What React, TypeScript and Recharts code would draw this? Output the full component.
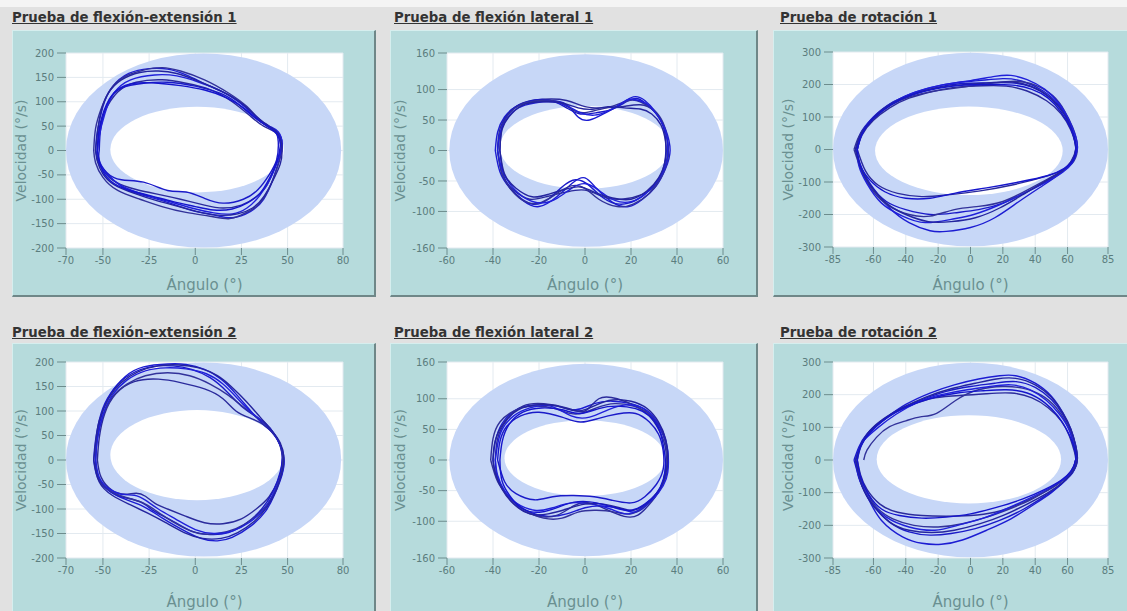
import {
  ComposedChart,
  Scatter,
  XAxis,
  YAxis,
  CartesianGrid,
  ReferenceArea,
  Label,
} from "recharts";

type Pt = [number, number];

// axis ticks
const feXTicks = [-70, -50, -25, 0, 25, 50, 80];
const feYTicks = [-200, -150, -100, -50, 0, 50, 100, 150, 200];
const latXTicks = [-60, -40, -20, 0, 20, 40, 60];
const latYTicks = [-160, -100, -50, 0, 50, 100, 160];
const rotXTicks = [-85, -60, -40, -20, 0, 20, 40, 60, 85];
const rotYTicks = [-300, -200, -100, 0, 100, 200, 300];

// normal-range band: outer / inner ellipse bounds [x1, x2, y1, y2]
const fe1Outer = [-70, 79, -199, 199];
const fe1Inner = [-46, 48, -86, 90];
const lat1Outer = [-59, 60, -158, 158];
const lat1Inner = [-37, 37, -63, 73];
const rot1Outer = [-85, 85, -298, 298];
const rot1Inner = [-59, 57, -140, 132];
const fe2Outer = [-70, 79, -197, 199];
const fe2Inner = [-46, 48, -82, 102];
const lat2Outer = [-59, 60, -157, 157];
const lat2Inner = [-35, 35, -59, 65];
const rot2Outer = [-85, 85, -298, 298];
const rot2Inner = [-58, 56, -133, 137];

// Prueba de flexión-extensión 1
const fe1A: Pt[] = [[-54, 0], [-53, 40], [-50, 90], [-45, 130], [-36, 158], [-25, 168], [-15, 167], [-5, 155], [8, 132], [20, 110], [30, 80], [36, 58], [42, 45], [46, 30], [47, 5], [45, -25], [42, -60], [37, -100], [30, -125], [20, -138], [10, -132], [0, -125], [-12, -110], [-25, -95], [-38, -78], [-47, -50], [-52, -25], [-54, 0]];
const fe1B: Pt[] = [[-53, 0], [-52, 40], [-49, 80], [-42, 120], [-32, 140], [-18, 145], [-5, 138], [8, 125], [20, 100], [30, 70], [37, 50], [43, 38], [46, 18], [46, -5], [43, -35], [39, -70], [33, -95], [25, -112], [15, -118], [5, -112], [-8, -100], [-20, -90], [-32, -80], [-43, -65], [-50, -40], [-53, -15], [-53, 0]];
const fe1C: Pt[] = [[-52, 0], [-51, 50], [-47, 100], [-40, 128], [-28, 138], [-15, 140], [0, 132], [15, 115], [25, 90], [34, 62], [40, 48], [44, 35], [45, 10], [44, -20], [40, -50], [34, -80], [26, -100], [15, -108], [5, -98], [-5, -85], [-15, -82], [-28, -65], [-40, -60], [-48, -45], [-52, -20], [-52, 0]];
const fe1D: Pt[] = [[-55, 0], [-54, 45], [-51, 85], [-46, 125], [-38, 152], [-28, 165], [-18, 170], [-8, 163], [5, 145], [18, 118], [28, 90], [35, 62], [41, 46], [45, 35], [47, 15], [46, -15], [43, -50], [39, -85], [33, -115], [25, -132], [18, -140], [8, -135], [-5, -127], [-18, -115], [-30, -100], [-42, -82], [-50, -55], [-54, -25], [-55, 0]];
const fe1E: Pt[] = [[-53, 0], [-52, 30], [-49, 75], [-44, 118], [-35, 145], [-22, 155], [-10, 153], [2, 140], [15, 120], [26, 92], [34, 66], [40, 50], [45, 38], [47, 12], [45, -18], [41, -55], [35, -92], [28, -118], [20, -130], [10, -128], [-2, -118], [-15, -104], [-28, -90], [-40, -72], [-48, -48], [-53, -20], [-53, 0]];
const fe1F: Pt[] = [[-54, 0], [-53, 35], [-51, 80], [-47, 118], [-40, 145], [-30, 160], [-20, 163], [-10, 158], [2, 142], [14, 122], [24, 100], [32, 74], [38, 55], [43, 42], [46, 25], [47, 0], [46, -28], [42, -62], [37, -95], [31, -118], [23, -130], [14, -133], [4, -128], [-8, -116], [-20, -104], [-33, -88], [-44, -70], [-50, -48], [-53, -22], [-54, 0]];
const fe1G: Pt[] = [[-53, 0], [-52, 45], [-48, 95], [-42, 125], [-33, 138], [-20, 138], [-8, 133], [5, 124], [17, 108], [27, 85], [35, 60], [41, 45], [45, 30], [46, 8], [44, -25], [40, -58], [35, -88], [28, -108], [20, -120], [10, -122], [0, -115], [-12, -105], [-25, -92], [-37, -80], [-46, -62], [-51, -35], [-53, 0]];

// Prueba de flexión lateral 1
const lat1A: Pt[] = [[-39, 0], [-38, 30], [-35, 55], [-30, 72], [-23, 80], [-15, 82], [-8, 75], [-3, 55], [2, 50], [8, 60], [15, 75], [21, 88], [26, 82], [31, 62], [35, 35], [37, 0], [35, -30], [31, -58], [25, -80], [19, -92], [12, -85], [5, -62], [0, -45], [-5, -52], [-12, -75], [-20, -92], [-27, -82], [-33, -60], [-37, -35], [-39, 0]];
const lat1B: Pt[] = [[-38, 0], [-37, 35], [-33, 62], [-27, 78], [-18, 84], [-8, 82], [0, 72], [8, 70], [16, 72], [24, 75], [30, 65], [34, 40], [36, 10], [35, -25], [31, -55], [25, -72], [16, -80], [8, -76], [0, -65], [-8, -68], [-16, -75], [-24, -80], [-31, -65], [-36, -40], [-38, 0]];
const lat1C: Pt[] = [[-37, 0], [-36, 40], [-32, 66], [-25, 80], [-16, 83], [-8, 70], [-2, 60], [5, 62], [12, 68], [18, 80], [23, 85], [28, 72], [33, 50], [35, 20], [35, -10], [33, -40], [28, -65], [22, -82], [15, -88], [8, -78], [2, -58], [-4, -48], [-10, -60], [-16, -80], [-23, -88], [-30, -72], [-35, -45], [-37, 0]];
const lat1D: Pt[] = [[-38, 0], [-37, 25], [-34, 55], [-28, 75], [-20, 82], [-12, 80], [-5, 66], [0, 62], [6, 67], [13, 74], [19, 82], [24, 80], [30, 66], [34, 45], [36, 15], [36, -15], [33, -45], [28, -70], [21, -88], [14, -92], [6, -80], [0, -62], [-6, -58], [-12, -70], [-19, -85], [-26, -84], [-32, -65], [-36, -38], [-38, 0]];
const lat1E: Pt[] = [[-38, 0], [-37, 28], [-34, 52], [-29, 70], [-22, 78], [-14, 80], [-7, 72], [-2, 62], [4, 58], [10, 65], [16, 78], [20, 84], [26, 78], [31, 60], [35, 32], [36, 5], [35, -25], [31, -52], [26, -72], [20, -84], [13, -82], [7, -68], [1, -55], [-5, -60], [-12, -78], [-19, -86], [-26, -78], [-32, -58], [-36, -32], [-38, 0]];
const lat1F: Pt[] = [[-37, 0], [-36, 35], [-32, 60], [-26, 76], [-18, 80], [-10, 78], [-3, 70], [4, 68], [10, 72], [17, 70], [24, 68], [29, 60], [33, 42], [35, 15], [35, -15], [32, -45], [27, -66], [20, -80], [12, -78], [5, -70], [-2, -60], [-9, -64], [-16, -72], [-23, -76], [-30, -62], [-35, -38], [-37, 0]];

// Prueba de rotación 1
const rot1A: Pt[] = [[-71, 0], [-68, 40], [-62, 85], [-52, 130], [-40, 165], [-25, 190], [-10, 205], [5, 212], [20, 218], [32, 210], [45, 180], [55, 135], [61, 85], [64, 40], [65, 0], [62, -40], [55, -75], [45, -110], [30, -160], [15, -210], [0, -240], [-15, -252], [-25, -250], [-38, -225], [-50, -180], [-60, -120], [-67, -60], [-71, 0]];
const rot1B: Pt[] = [[-70, 0], [-67, 45], [-60, 90], [-50, 128], [-38, 158], [-22, 180], [-8, 192], [8, 196], [22, 195], [35, 180], [47, 150], [56, 110], [62, 60], [65, 10], [64, -30], [58, -60], [45, -85], [25, -110], [5, -128], [-15, -140], [-30, -145], [-45, -135], [-57, -110], [-65, -65], [-70, 0]];
const rot1C: Pt[] = [[-71, 0], [-68, 50], [-61, 95], [-50, 140], [-36, 170], [-20, 192], [-5, 203], [10, 205], [25, 205], [38, 192], [49, 160], [57, 118], [62, 70], [65, 20], [64, -25], [58, -60], [48, -95], [35, -130], [20, -165], [5, -185], [-10, -195], [-25, -200], [-40, -185], [-52, -160], [-62, -110], [-68, -55], [-71, 0]];
const rot1D: Pt[] = [[-72, 0], [-69, 40], [-63, 80], [-54, 120], [-44, 150], [-30, 172], [-15, 185], [0, 195], [15, 205], [28, 210], [40, 198], [51, 165], [58, 120], [63, 70], [66, 15], [64, -35], [57, -65], [48, -90], [35, -125], [20, -160], [5, -175], [-10, -185], [-25, -205], [-38, -200], [-50, -175], [-60, -130], [-67, -70], [-72, 0]];
const rot1E: Pt[] = [[-70, 0], [-67, 50], [-60, 100], [-48, 145], [-35, 175], [-18, 198], [0, 212], [15, 225], [25, 228], [35, 215], [46, 185], [55, 140], [61, 90], [65, 40], [66, 0], [63, -40], [57, -70], [47, -100], [33, -135], [18, -170], [2, -200], [-12, -215], [-28, -225], [-42, -205], [-55, -165], [-64, -105], [-69, -50], [-70, 0]];
const rot1F: Pt[] = [[-71, 0], [-68, 45], [-61, 92], [-51, 135], [-38, 165], [-24, 186], [-8, 198], [8, 204], [22, 208], [34, 200], [46, 172], [55, 128], [61, 80], [64, 35], [65, 0], [62, -38], [56, -68], [46, -98], [32, -140], [18, -180], [3, -210], [-12, -222], [-26, -222], [-40, -200], [-52, -165], [-62, -110], [-68, -55], [-71, 0]];
const rot1G: Pt[] = [[-70, 0], [-67, 48], [-60, 95], [-49, 138], [-36, 168], [-20, 188], [-4, 198], [12, 200], [26, 198], [38, 185], [48, 158], [56, 115], [62, 65], [65, 15], [64, -28], [58, -58], [48, -80], [30, -100], [10, -118], [-10, -135], [-25, -150], [-40, -150], [-53, -130], [-62, -95], [-68, -50], [-70, 0]];

// Prueba de flexión-extensión 2
const fe2A: Pt[] = [[-55, 0], [-54, 40], [-51, 95], [-46, 135], [-38, 170], [-28, 190], [-15, 196], [-5, 195], [5, 185], [14, 165], [22, 135], [30, 100], [37, 72], [42, 55], [46, 30], [48, 0], [47, -30], [43, -70], [38, -105], [30, -135], [20, -158], [12, -165], [3, -160], [-8, -140], [-18, -118], [-28, -95], [-38, -80], [-47, -62], [-53, -35], [-55, 0]];
const fe2B: Pt[] = [[-53, 0], [-52, 45], [-49, 95], [-43, 135], [-33, 160], [-20, 165], [-8, 158], [5, 145], [15, 125], [22, 100], [30, 85], [37, 72], [43, 50], [47, 20], [47, -10], [45, -40], [40, -75], [33, -100], [25, -120], [15, -130], [5, -128], [-5, -115], [-15, -100], [-22, -88], [-27, -74], [-32, -68], [-38, -70], [-45, -62], [-51, -35], [-53, 0]];
const fe2C: Pt[] = [[-54, 0], [-53, 50], [-50, 100], [-44, 145], [-35, 175], [-24, 190], [-12, 192], [-2, 185], [8, 168], [17, 140], [25, 110], [33, 88], [40, 65], [45, 40], [47, 10], [46, -25], [42, -65], [36, -100], [28, -128], [18, -148], [8, -152], [-2, -145], [-12, -125], [-22, -105], [-30, -85], [-40, -75], [-48, -58], [-53, -30], [-54, 0]];
const fe2D: Pt[] = [[-54, 0], [-53, 45], [-50, 90], [-45, 128], [-37, 155], [-27, 172], [-15, 178], [-3, 172], [8, 155], [18, 132], [26, 108], [33, 88], [39, 70], [44, 45], [47, 15], [47, -20], [44, -55], [39, -90], [31, -120], [22, -140], [12, -150], [2, -150], [-8, -135], [-18, -112], [-27, -90], [-36, -78], [-45, -65], [-52, -40], [-54, 0]];
const fe2E: Pt[] = [[-54, 0], [-53, 42], [-50, 92], [-45, 132], [-37, 163], [-27, 182], [-16, 188], [-5, 186], [6, 176], [15, 155], [23, 125], [31, 95], [38, 75], [43, 52], [47, 22], [48, -8], [46, -38], [42, -72], [37, -102], [29, -128], [20, -145], [10, -150], [0, -142], [-10, -122], [-20, -100], [-27, -82], [-33, -72], [-40, -70], [-47, -58], [-52, -35], [-54, 0]];
const fe2F: Pt[] = [[-55, 0], [-54, 35], [-52, 80], [-47, 125], [-40, 158], [-31, 180], [-20, 192], [-9, 194], [2, 188], [12, 172], [20, 148], [28, 118], [35, 88], [41, 62], [46, 35], [48, 5], [47, -25], [44, -60], [39, -95], [32, -125], [23, -148], [14, -160], [4, -160], [-6, -148], [-16, -128], [-26, -108], [-36, -90], [-45, -72], [-52, -45], [-55, 0]];

// Prueba de flexión lateral 2
const lat2A: Pt[] = [[-40, 0], [-39, 30], [-36, 60], [-30, 82], [-22, 90], [-12, 88], [-4, 82], [4, 92], [12, 96], [20, 92], [26, 82], [31, 62], [34, 40], [36, 10], [35, -20], [33, -45], [28, -70], [22, -85], [16, -80], [8, -75], [0, -78], [-8, -88], [-16, -92], [-24, -85], [-31, -68], [-36, -45], [-39, -20], [-40, 0]];
const lat2B: Pt[] = [[-39, 0], [-38, 35], [-34, 65], [-27, 88], [-18, 92], [-8, 85], [0, 80], [6, 100], [14, 100], [22, 88], [28, 72], [32, 50], [35, 20], [35, -15], [33, -45], [29, -68], [23, -90], [17, -92], [10, -82], [2, -70], [-5, -75], [-12, -90], [-20, -92], [-28, -80], [-34, -58], [-38, -30], [-39, 0]];
const lat2C: Pt[] = [[-38, 0], [-37, 30], [-34, 55], [-28, 72], [-20, 78], [-10, 70], [-2, 62], [6, 68], [14, 75], [22, 76], [28, 62], [32, 42], [34, 15], [34, -15], [31, -40], [26, -60], [20, -70], [12, -66], [4, -60], [-5, -58], [-14, -60], [-22, -65], [-30, -55], [-35, -35], [-38, 0]];
const lat2D: Pt[] = [[-41, 0], [-40, 35], [-37, 62], [-31, 80], [-23, 88], [-13, 84], [-4, 75], [5, 85], [13, 92], [21, 88], [27, 78], [32, 58], [35, 30], [36, 0], [35, -30], [31, -55], [26, -75], [20, -88], [13, -85], [5, -82], [-3, -85], [-10, -95], [-18, -95], [-26, -82], [-33, -60], [-38, -35], [-41, 0]];
const lat2E: Pt[] = [[-39, 0], [-38, 25], [-36, 50], [-31, 72], [-24, 85], [-15, 88], [-6, 72], [2, 70], [10, 82], [18, 90], [25, 85], [30, 70], [34, 45], [36, 15], [36, -20], [34, -42], [30, -62], [24, -80], [18, -88], [11, -80], [3, -72], [-6, -70], [-14, -78], [-22, -82], [-30, -70], [-35, -50], [-38, -25], [-39, 0]];
const lat2F: Pt[] = [[-40, 0], [-39, 32], [-35, 62], [-29, 82], [-21, 90], [-12, 88], [-3, 80], [5, 90], [12, 98], [20, 96], [27, 84], [32, 62], [35, 35], [36, 5], [35, -25], [32, -50], [27, -70], [21, -82], [15, -78], [8, -72], [0, -72], [-8, -80], [-16, -88], [-24, -88], [-31, -72], [-36, -48], [-39, -22], [-40, 0]];
const lat2G: Pt[] = [[-37, 0], [-36, 30], [-33, 58], [-27, 78], [-19, 85], [-10, 82], [-2, 76], [6, 84], [14, 88], [22, 84], [28, 72], [32, 52], [34, 25], [35, -5], [34, -32], [31, -55], [26, -72], [20, -82], [13, -78], [5, -70], [-3, -68], [-11, -76], [-19, -85], [-27, -80], [-32, -62], [-36, -35], [-37, 0]];

// Prueba de rotación 2
const rot2A: Pt[] = [[-71, 0], [-68, 45], [-62, 90], [-52, 130], [-40, 170], [-25, 205], [-10, 230], [5, 248], [18, 258], [28, 258], [40, 235], [50, 195], [57, 145], [62, 95], [65, 45], [66, 0], [63, -40], [58, -65], [50, -100], [38, -140], [25, -180], [10, -215], [-5, -245], [-18, -258], [-30, -255], [-42, -235], [-55, -185], [-63, -120], [-69, -55], [-71, 0]];
const rot2B: Pt[] = [[-70, 0], [-67, 50], [-60, 95], [-50, 135], [-38, 165], [-22, 190], [-5, 198], [10, 203], [25, 205], [38, 190], [48, 160], [56, 120], [61, 75], [64, 30], [65, 0], [62, -35], [55, -70], [45, -100], [30, -135], [15, -160], [0, -170], [-15, -172], [-30, -170], [-45, -160], [-56, -135], [-64, -90], [-68, -45], [-70, 0]];
const rot2C: Pt[] = [[-72, 0], [-69, 40], [-64, 80], [-55, 120], [-44, 155], [-30, 185], [-15, 210], [0, 225], [15, 235], [28, 240], [40, 222], [50, 185], [57, 140], [62, 90], [65, 40], [65, 0], [62, -40], [56, -75], [46, -110], [33, -150], [18, -185], [3, -210], [-12, -225], [-25, -230], [-38, -220], [-50, -190], [-60, -140], [-67, -80], [-72, 0]];
const rot2D: Pt[] = [[-66, 0], [-64, 30], [-58, 70], [-50, 102], [-40, 120], [-31, 132], [-21, 143], [-9, 183], [5, 215], [20, 225], [32, 220], [44, 198], [53, 160], [59, 115], [63, 65], [65, 15], [64, -25], [59, -55], [50, -85], [38, -120], [24, -150], [10, -175], [-5, -195], [-20, -205], [-35, -200], [-48, -180], [-58, -145], [-65, -90], [-69, -40], [-71, 0]];
const rot2E: Pt[] = [[-71, 0], [-69, 35], [-65, 65], [-57, 100], [-46, 140], [-32, 178], [-18, 200], [-2, 215], [12, 225], [25, 230], [37, 215], [47, 182], [55, 140], [61, 92], [64, 45], [66, 5], [64, -30], [58, -58], [48, -88], [36, -118], [22, -150], [8, -178], [-8, -200], [-22, -215], [-38, -205], [-52, -175], [-62, -125], [-68, -65], [-71, 0]];
const rot2F: Pt[] = [[-71, 0], [-68, 42], [-63, 85], [-54, 125], [-42, 160], [-28, 192], [-12, 218], [3, 235], [16, 248], [28, 250], [40, 230], [50, 192], [57, 145], [62, 95], [65, 45], [66, 0], [63, -38], [57, -68], [48, -100], [35, -135], [21, -168], [6, -195], [-10, -215], [-24, -222], [-38, -215], [-50, -190], [-60, -140], [-67, -80], [-71, 0]];
const rot2G: Pt[] = [[-70, 0], [-68, 40], [-62, 85], [-52, 128], [-40, 162], [-25, 188], [-8, 205], [8, 212], [22, 215], [35, 205], [46, 175], [54, 135], [60, 88], [64, 40], [65, 0], [62, -35], [56, -62], [46, -90], [32, -120], [16, -145], [0, -165], [-15, -175], [-30, -178], [-44, -170], [-55, -150], [-63, -105], [-68, -50], [-70, 0]];

const LOOP_COLORS = ["#1c1cd2", "#2b2b9c", "#1a1ac8", "#32329a", "#2020da", "#24249e", "#1515cc"];
const BAND = "#c7d7f7";
const FRAME = "#b6dbdc";
const TICK_TEXT = "#5b7d7e";
const LABEL_TEXT = "#6a9091";
const FONT = '"DejaVu Sans", Verdana, sans-serif';

type Box = { l: number; t: number; w: number; h: number };
type Plot = { l: number; t: number; r: number; b: number };

interface PanelCfg {
  title: string;
  titleX: number;
  titleY: number;
  frame: Box;
  plot: Plot;
  yLabelX: number;
  xLabelY: number;
  xTicks: number[];
  yTicks: number[];
  outer: number[];
  inner: number[];
  loops: Pt[][];
}

const ROW1 = 30;
const ROW2 = 343;

const panels: PanelCfg[] = [
  {
    title: "Prueba de flexión-extensión 1",
    titleX: 12, titleY: 10,
    frame: { l: 12, t: ROW1, w: 364, h: 267 },
    plot: { l: 66, t: 53, r: 343, b: 248 },
    yLabelX: 21, xLabelY: 285,
    xTicks: feXTicks, yTicks: feYTicks, outer: fe1Outer, inner: fe1Inner,
    loops: [fe1A, fe1B, fe1C, fe1D, fe1E, fe1F, fe1G],
  },
  {
    title: "Prueba de flexión lateral 1",
    titleX: 394, titleY: 10,
    frame: { l: 390, t: ROW1, w: 368, h: 267 },
    plot: { l: 447, t: 53, r: 723, b: 248 },
    yLabelX: 400, xLabelY: 285,
    xTicks: latXTicks, yTicks: latYTicks, outer: lat1Outer, inner: lat1Inner,
    loops: [lat1A, lat1B, lat1C, lat1D, lat1E, lat1F],
  },
  {
    title: "Prueba de rotación 1",
    titleX: 780, titleY: 10,
    frame: { l: 773, t: ROW1, w: 362, h: 267 },
    plot: { l: 833, t: 52, r: 1108, b: 247 },
    yLabelX: 788, xLabelY: 285,
    xTicks: rotXTicks, yTicks: rotYTicks, outer: rot1Outer, inner: rot1Inner,
    loops: [rot1A, rot1B, rot1C, rot1D, rot1E, rot1F, rot1G],
  },
  {
    title: "Prueba de flexión-extensión 2",
    titleX: 12, titleY: 325,
    frame: { l: 12, t: ROW2, w: 364, h: 272 },
    plot: { l: 66, t: 362, r: 343, b: 558 },
    yLabelX: 21, xLabelY: 602,
    xTicks: feXTicks, yTicks: feYTicks, outer: fe2Outer, inner: fe2Inner,
    loops: [fe2A, fe2B, fe2C, fe2D, fe2E, fe2F],
  },
  {
    title: "Prueba de flexión lateral 2",
    titleX: 394, titleY: 325,
    frame: { l: 390, t: ROW2, w: 368, h: 272 },
    plot: { l: 447, t: 362, r: 723, b: 558 },
    yLabelX: 400, xLabelY: 602,
    xTicks: latXTicks, yTicks: latYTicks, outer: lat2Outer, inner: lat2Inner,
    loops: [lat2A, lat2B, lat2C, lat2D, lat2E, lat2F, lat2G],
  },
  {
    title: "Prueba de rotación 2",
    titleX: 780, titleY: 325,
    frame: { l: 773, t: ROW2, w: 362, h: 272 },
    plot: { l: 833, t: 362, r: 1108, b: 558 },
    yLabelX: 788, xLabelY: 602,
    xTicks: rotXTicks, yTicks: rotYTicks, outer: rot2Outer, inner: rot2Inner,
    loops: [rot2A, rot2B, rot2C, rot2D, rot2E, rot2F, rot2G],
  },
];

const noDot = () => <g />;

const ellipseShape = (fill: string) => (p: any) => (
  <ellipse
    cx={p.x + p.width / 2}
    cy={p.y + p.height / 2}
    rx={Math.abs(p.width) / 2}
    ry={Math.abs(p.height) / 2}
    fill={fill}
  />
);

function Panel({ cfg }: { cfg: PanelCfg }) {
  const { frame, plot } = cfg;
  // chart-local coordinates
  const yAxisW = plot.l - frame.l;
  const xAxisH = frame.t + frame.h - plot.b;
  const margin = { top: plot.t - frame.t, right: frame.l + frame.w - plot.r, left: 0, bottom: 0 };
  const midX = (plot.l + plot.r) / 2 - frame.l;
  const midY = (plot.t + plot.b) / 2 - frame.t;
  const yLabX = cfg.yLabelX - frame.l;
  const xLabY = cfg.xLabelY - frame.t;
  const xDom = [cfg.xTicks[0], cfg.xTicks[cfg.xTicks.length - 1]];
  const yDom = [cfg.yTicks[0], cfg.yTicks[cfg.yTicks.length - 1]];

  return (
    <>
      <div
        style={{
          position: "absolute",
          left: cfg.titleX,
          top: cfg.titleY,
          fontSize: 13.3,
          lineHeight: "16px",
          fontWeight: "bold",
          color: "#333",
          textDecoration: "underline",
          whiteSpace: "nowrap",
        }}
      >
        {cfg.title}
      </div>
      <div
        style={{
          position: "absolute",
          left: frame.l,
          top: frame.t,
          width: frame.w,
          height: frame.h,
          boxSizing: "border-box",
          background: FRAME,
          borderTop: "1px solid #d6eeee",
          borderLeft: "1px solid #d6eeee",
          borderRight: "2px solid #6f8788",
          borderBottom: "2px solid #6f8788",
        }}
      />
      <div style={{ position: "absolute", left: frame.l, top: frame.t }}>
        <ComposedChart width={frame.w} height={frame.h} margin={margin}>
          <CartesianGrid stroke="#e3eaf0" fill="#ffffff" fillOpacity={1} />
          <XAxis
            type="number"
            dataKey="x"
            domain={xDom}
            ticks={cfg.xTicks}
            interval={0}
            allowDataOverflow
            axisLine={false}
            tickLine={{ stroke: "#6d8c8d" }}
            tickSize={7}
            tickMargin={2}
            tick={{ fontSize: 10, fill: TICK_TEXT }}
            height={xAxisH}
          >
            <Label
              content={() => (
                <text
                  x={midX}
                  y={xLabY}
                  textAnchor="middle"
                  dominantBaseline="central"
                  fontSize={15}
                  fill={LABEL_TEXT}
                >
                  Ángulo (°)
                </text>
              )}
            />
          </XAxis>
          <YAxis
            type="number"
            dataKey="y"
            domain={yDom}
            ticks={cfg.yTicks}
            interval={0}
            allowDataOverflow
            axisLine={false}
            tickLine={{ stroke: "#6d8c8d" }}
            tickSize={9}
            tickMargin={3}
            tick={{ fontSize: 10, fill: TICK_TEXT }}
            width={yAxisW}
          >
            <Label
              content={() => (
                <text
                  x={yLabX}
                  y={midY}
                  transform={`rotate(-90 ${yLabX} ${midY})`}
                  textAnchor="middle"
                  dominantBaseline="central"
                  fontSize={14}
                  fill={LABEL_TEXT}
                >
                  Velocidad (°/s)
                </text>
              )}
            />
          </YAxis>
          <ReferenceArea
            x1={cfg.outer[0]}
            x2={cfg.outer[1]}
            y1={cfg.outer[2]}
            y2={cfg.outer[3]}
            ifOverflow="visible"
            shape={ellipseShape(BAND)}
          />
          <ReferenceArea
            x1={cfg.inner[0]}
            x2={cfg.inner[1]}
            y1={cfg.inner[2]}
            y2={cfg.inner[3]}
            ifOverflow="visible"
            shape={ellipseShape("#ffffff")}
          />
          {cfg.loops.map((loop, i) => (
            <Scatter
              key={i}
              data={loop.map(([x, y]) => ({ x, y }))}
              fill={LOOP_COLORS[i % LOOP_COLORS.length]}
              line={{ stroke: LOOP_COLORS[i % LOOP_COLORS.length], strokeWidth: 1.4 }}
              lineJointType="natural"
              shape={noDot}
              isAnimationActive={false}
            />
          ))}
        </ComposedChart>
      </div>
    </>
  );
}

export default function App() {
  return (
    <div
      style={{
        position: "absolute",
        left: 0,
        top: 0,
        width: 1127,
        height: 611,
        overflow: "hidden",
        background: "#e1e1e1",
        fontFamily: FONT,
      }}
    >
      <div style={{ position: "absolute", left: 0, top: 0, width: 1127, height: 7, background: "#f4f4f4" }} />
      {panels.map((p) => (
        <Panel key={p.title} cfg={p} />
      ))}
    </div>
  );
}
